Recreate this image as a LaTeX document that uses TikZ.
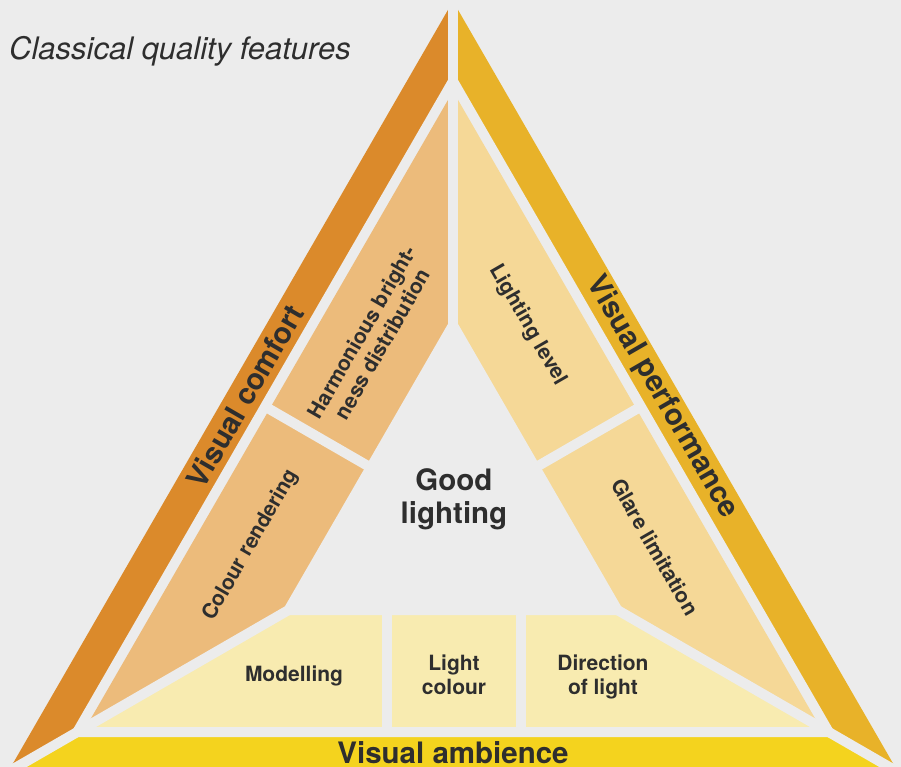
\documentclass[tikz,border=0pt]{standalone}
\usepackage{fontspec}
\setmainfont{TeX Gyre Heros}
\usetikzlibrary{calc}

\definecolor{bg}{HTML}{ECECEC}
\definecolor{ink}{HTML}{2E2E2E}
\definecolor{comfortcol}{HTML}{DB8A2B}
\definecolor{perfcol}{HTML}{E8B229}
\definecolor{ambcol}{HTML}{F4D31E}
\definecolor{comfortlight}{HTML}{ECBB7B}
\definecolor{perflight}{HTML}{F5D897}
\definecolor{amblight}{HTML}{F8EBB0}

\begin{document}
\begin{tikzpicture}[x=1pt, y=-1pt,
    gapline/.style={draw=bg, line width=10pt},
    bigtext/.style={
        font=\bfseries\fontsize{29.5}{33}\selectfont,
        text=ink,
        inner sep=0pt},
    smalltext/.style={
        font=\bfseries\fontsize{21}{24}\selectfont,
        text=ink,
        inner sep=0pt,
        align=center}]

    \useasboundingbox (0,0) rectangle (901,767);
    \clip (0,0) rectangle (901,767);
    \fill[bg] (0,0) rectangle (901,767);

    \coordinate (I) at (453,515.1);
    \coordinate (A) at (453,1.2);
    \coordinate (L) at (8,772);
    \coordinate (R) at (898,772);

    \foreach \v in {A,L,R} {
        \coordinate (\v35) at ($(I)!.8638!(\v)$);
        \coordinate (\v40) at ($(I)!.8443!(\v)$);
        \coordinate (\v45) at ($(I)!.8248!(\v)$);
        \coordinate (\v157) at ($(I)!.3889!(\v)$);
    }

    % outer bands
    \fill[comfortcol] (A) -- (L) -- (I) -- cycle;
    \fill[perfcol] (A) -- (R) -- (I) -- cycle;
    \fill[ambcol] (L) -- (R) -- (I) -- cycle;
    \fill[bg] (A35) -- (L35) -- (R35) -- cycle;

    % inner fields
    \fill[comfortlight] (A45) -- (L45) -- (I) -- cycle;
    \fill[perflight] (A45) -- (R45) -- (I) -- cycle;
    \fill[amblight] (L45) -- (R45) -- (I) -- cycle;
    \fill[bg] (A157) -- (L157) -- (R157) -- cycle;

    % gaps
    \foreach \v in {A,L,R}
        \draw[gapline] (I) -- ($(I)!1.1!(\v)$);
    \draw[gapline] (I) -- ($(A40)!.5!(L40)$);
    \draw[gapline] (I) -- ($(A40)!.5!(R40)$);
    \draw[gapline] (387,600) -- (387,732);
    \draw[gapline] (521,600) -- (521,732);

    \node[font=\itshape\fontsize{31}{36}\selectfont, text=ink,
        anchor=base west, inner sep=0pt] (title) at (9,60)
        {Classical quality features};

    \node[bigtext, rotate=60] (comfort) at (245,396) {Visual comfort};
    \node[bigtext, rotate=-60] (performance) at (662,397) {Visual performance};
    \node[bigtext, anchor=base] (ambience) at (453,763) {Visual ambience};
    \node[bigtext, align=center] (good) at (454,499) {Good\\lighting};

    \node[smalltext, rotate=60] (harmony) at (372,338) {Harmonious bright-\\ness distribution};
    \node[smalltext, rotate=60] (colourrend) at (251,545) {Colour rendering};
    \node[smalltext, rotate=-60] (lightlevel) at (528,325) {Lighting level};
    \node[smalltext, rotate=-60] (glare) at (655,547) {Glare limitation};
    \node[smalltext] (modelling) at (294,676) {Modelling};
    \node[smalltext] (lightcol) at (454,675) {Light\\colour};
    \node[smalltext] (direction) at (603,677) {Direction\\of light};
\end{tikzpicture}
\end{document}
